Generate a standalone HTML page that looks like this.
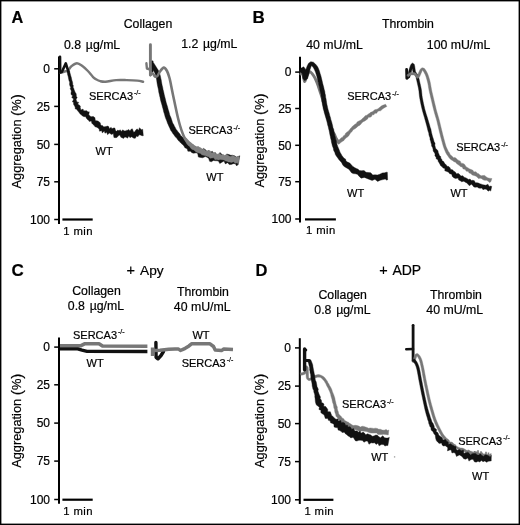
<!DOCTYPE html>
<html><head><meta charset="utf-8"><style>
html,body{margin:0;padding:0;background:#fff;}
body{width:520px;height:525px;overflow:hidden;}
svg{display:block;filter:grayscale(1) blur(0.3px);}
text{font-family:"Liberation Sans",sans-serif;fill:#000;stroke:#000;stroke-width:0.2px;}
</style></head><body>
<svg width="520" height="525" viewBox="0 0 520 525">
<rect x="0.7" y="0.7" width="518.6" height="523.6" fill="#fff" stroke="#000" stroke-width="1.4"/>
<text x="11.6" y="22.5" font-size="16.3" text-anchor="start" font-weight="bold">A</text>
<text x="148" y="28.2" font-size="12.3" text-anchor="middle" font-weight="normal">Collagen</text>
<text x="92.1" y="48.5" font-size="12.3" text-anchor="middle" font-weight="normal">0.8 <tspan dx="1.3">µ</tspan>g/mL</text>
<text x="209.3" y="48.1" font-size="12.3" text-anchor="middle" font-weight="normal">1.2 <tspan dx="1.3">µ</tspan>g/mL</text>
<line x1="59" y1="56.5" x2="59" y2="224" stroke="#000" stroke-width="2.0" stroke-linecap="butt"/>
<line x1="54.2" y1="68.8" x2="59" y2="68.8" stroke="#000" stroke-width="1.5" stroke-linecap="butt"/>
<text x="50" y="73.1" font-size="12" text-anchor="end" font-weight="normal">0</text>
<line x1="54.2" y1="106.4" x2="59" y2="106.4" stroke="#000" stroke-width="1.5" stroke-linecap="butt"/>
<text x="50" y="110.7" font-size="12" text-anchor="end" font-weight="normal">25</text>
<line x1="54.2" y1="144.4" x2="59" y2="144.4" stroke="#000" stroke-width="1.5" stroke-linecap="butt"/>
<text x="50" y="148.7" font-size="12" text-anchor="end" font-weight="normal">50</text>
<line x1="54.2" y1="181.8" x2="59" y2="181.8" stroke="#000" stroke-width="1.5" stroke-linecap="butt"/>
<text x="50" y="186.1" font-size="12" text-anchor="end" font-weight="normal">75</text>
<line x1="54.2" y1="219.5" x2="59" y2="219.5" stroke="#000" stroke-width="1.5" stroke-linecap="butt"/>
<text x="50" y="223.8" font-size="12" text-anchor="end" font-weight="normal">100</text>
<line x1="62.4" y1="219.5" x2="92.7" y2="219.5" stroke="#000" stroke-width="2.2" stroke-linecap="butt"/>
<text x="78" y="234.9" font-size="11.3" text-anchor="middle" font-weight="normal" letter-spacing="0.4">1 min</text>
<text transform="translate(21,141.3) rotate(-90)" font-size="12.8" text-anchor="middle">Aggregation <tspan font-size="15.5" dy="1.2">(</tspan><tspan dy="-1.2">%</tspan><tspan font-size="15.5" dy="1.2">)</tspan></text>
<path d="M60.6,72.8 C61.25,72.58 63.27,71.87 64.5,71.5 C65.73,71.13 66.85,71.47 68,70.6 C69.15,69.73 69.9,67.53 71.4,66.3 C72.9,65.07 75.12,63.2 77,63.2 C78.88,63.2 80.88,65 82.7,66.3 C84.52,67.6 86.17,69.2 87.9,71 C89.63,72.8 91.75,75.72 93.1,77.1 C94.45,78.48 94.8,78.62 96,79.3 C97.2,79.98 98.7,80.8 100.3,81.2 C101.9,81.6 102.95,81.88 105.6,81.7 C108.25,81.52 112.68,80.37 116.2,80.1 C119.72,79.83 123.18,80.02 126.7,80.1 C130.22,80.18 134.57,80.33 137.3,80.6 C140.03,80.87 142.13,81.52 143.1,81.7" stroke="#777" stroke-width="2.4" fill="none" stroke-linejoin="round" stroke-linecap="round"/>
<path d="M60,56.8 L60.2,72.3" stroke="#111" stroke-width="2.6" fill="none" stroke-linejoin="round" stroke-linecap="round"/>
<path d="M60.2,72.3 L61.8,72 L65.8,63.4 L68.3,71.4" stroke="#111" stroke-width="2.6" fill="none" stroke-linejoin="round" stroke-linecap="round"/>
<path d="M67.02,71.7 L67.21,72.55 L67.44,73.65 L67.7,75.02 L68.16,76.54 L68.46,77.97 L68.74,79.55 L69.02,80.82 L69.68,82.1 L69.55,83.57 L69.61,85.04 L70.18,86.36 L70.71,87.65 L70.13,88.85 L71.02,90.09 L71.32,91.55 L70.94,93.28 L71.28,94.83 L72.64,95.72 L71.74,97.56 L73.25,98.48 L73.44,99.83 L72.35,101.8 L73.79,102.87 L73.4,104 L74.13,105.25 L75.14,107.12 L75.28,108.95 L76.69,109.2 L77.46,110.6 L78.94,112.34 L79.94,113.74 L81.19,114.7 L82.17,115.72 L83.46,116.53 L84.67,116.68 L85.81,116.76 L86.32,118.3 L87.15,118.98 L87.91,120.07 L88.96,120.48 L89.21,121.51 L91.38,120.9 L91.82,123.24 L92.54,123.97 L93.33,124.7 L94.37,125.71 L95.07,126.78 L96.77,127.22 L97.91,127.89 L99.13,128.93 L99.5,131.17 L101.71,130.69 L102.25,132.91 L104.37,130.95 L104.96,133.25 L106.72,132.26 L107.52,134.63 L109.32,133.09 L110.45,133.78 L111.67,134.52 L113.29,133.5 L113.9,137.44 L115.24,137.67 L116.93,137.46 L118.43,135.74 L119.86,134.88 L120.86,137.23 L122.15,137.73 L123.45,138.45 L124.84,137.09 L126.18,137.23 L127.5,138.19 L128.78,136.09 L130.09,137.81 L131.35,136.77 L132.67,137.5 L133.99,138.33 L135.33,138.21 L136.54,135.96 L137.96,136.66 L139.12,134.83 L140.24,134.94 L142.06,135.74 L143.31,135.71 L142.68,129.34 L141.44,129.7 L139.48,127.68 L138.64,130.21 L137.2,128.97 L135.98,129.71 L134.85,131.7 L133.65,132.15 L132.32,128.8 L131.13,129.23 L129.94,131.01 L128.7,129.39 L127.5,130.25 L126.31,130.39 L125.09,131.08 L123.94,130.86 L122.78,129.77 L121.32,131.54 L120.26,129.79 L118.92,130.78 L117.89,130.05 L116.39,131.36 L115.55,130.46 L114.83,127.95 L113.59,127.97 L111.95,128.85 L111.12,127.32 L109.43,128.72 L108.65,126.58 L107.53,126.12 L106.05,126.56 L104.78,126.78 L103.49,126.84 L102.47,125.5 L101.19,125.55 L100.5,124.21 L100.26,122.8 L99.23,121.91 L98.39,121.32 L97.12,120.85 L95.88,120.82 L95.28,120.15 L94.93,117.81 L94.19,117.03 L93.14,116.42 L90.99,116.75 L89.85,115.73 L88.77,115.06 L89.29,111.84 L87.78,111.99 L87.02,110.83 L85.12,110.81 L83.56,110.76 L83.04,109.04 L80.88,110.09 L80.42,108.01 L80.09,106.99 L80.52,106.57 L79.82,105.41 L77.64,104.11 L78.81,102.41 L76.99,102.01 L76.51,100.76 L76.1,99.18 L77.18,97.5 L76.29,96.37 L76.32,94.71 L76.02,93.5 L75.11,92.13 L74.53,90.71 L73.99,89.37 L73.62,88.07 L73.06,87.16 L73.42,85.7 L72.69,84.42 L72.68,82.93 L72.35,81.54 L71.89,80.18 L71.59,78.89 L71.28,77.3 L70.81,75.91 L70.4,74.36 L70.03,73.02 L69.74,71.94 L69.57,71.08Z" fill="#111" stroke="#111" stroke-width="0.4" stroke-linejoin="round"/>
<text x="89" y="99.6" font-size="11" text-anchor="start" font-weight="normal">SERCA3<tspan font-size="7" dx="0.9" dy="-4.5">-/-</tspan></text>
<text x="95.5" y="154.6" font-size="11" text-anchor="start" font-weight="normal">WT</text>
<path d="M152,61.9 L152.2,70.5" stroke="#111" stroke-width="3.0" fill="none" stroke-linejoin="round" stroke-linecap="round"/>
<path d="M150.63,64.91 L151.55,66.67 L152.76,69.01 L153.58,70.46 L154.3,71.94 L154.92,73.31 L155.6,75.26 L156.11,77.54 L156.47,79.04 L156.75,80.82 L157,82.68 L157.3,84.43 L157.71,86.49 L158.17,88.41 L158.55,90.46 L158.77,92.2 L159.24,93.99 L159.58,95.83 L160.02,97.55 L160.44,99.65 L160.91,101.61 L161.56,103.63 L162.03,105.28 L162.43,107.02 L162.98,108.8 L163.43,110.68 L163.79,112.31 L164.42,113.95 L164.84,115.67 L165.29,117.33 L165.85,118.83 L166.81,120.99 L167.44,123.04 L168.33,124.93 L169.11,126.79 L169.97,128.54 L170.66,130.36 L171.83,131.85 L172.8,133.43 L174.07,134.9 L174.79,136.37 L176.11,137.5 L177.17,138.84 L178.06,140.27 L179.52,141.62 L180.76,143 L182.22,144.24 L183.75,145.65 L184.86,147.72 L187.12,148.78 L187.91,151.29 L190.41,151.33 L191.92,152.79 L193.72,153.26 L196.06,152.86 L197.68,153.54 L198.37,157.04 L200.48,157.41 L202.66,157.77 L205.37,156.61 L206.99,157.27 L208.56,158.31 L209.61,161.36 L211.36,161.75 L213.45,160.39 L215.05,160.74 L216.71,160.82 L218.4,161.07 L219.79,163.61 L221.95,162.2 L224.04,160.95 L225.3,163.9 L227.58,162.64 L229.19,164.57 L231.24,164.51 L233.23,163.67 L235.25,163.71 L236.69,165.96 L238.26,164.33 L239.79,155.71 L238.37,156.5 L236.43,157.01 L234.6,155.83 L232.83,155.32 L230.78,155.25 L228.94,154.6 L226.95,153.98 L224.86,155.99 L223.09,155.46 L221.48,154.08 L220.04,152.44 L217.85,155.29 L216.45,154.44 L215.33,152.5 L213.55,153.15 L212.32,151.3 L210.26,152.3 L209.02,150.44 L206.99,151.43 L205.34,149.57 L203.58,148.39 L200.74,150.58 L199.58,148.83 L198.66,146.9 L196.23,147.85 L195.27,146.05 L192.82,146.86 L191.61,145.47 L189.76,145.37 L189.04,143.13 L187.06,142.32 L185.72,140.82 L184.4,139.43 L183.33,137.94 L182.06,136.62 L180.87,135.69 L180.1,134.3 L179.09,133.09 L178.15,131.93 L177.11,130.48 L176.02,129.18 L175.34,127.64 L174.45,126.18 L173.72,124.61 L172.69,123.07 L172.13,121.23 L171.5,119.3 L170.78,117.16 L170.07,115.77 L169.57,114.18 L169.16,112.49 L168.66,110.85 L168.16,109.32 L167.73,107.47 L167.22,105.72 L166.64,104.04 L166.2,102.38 L165.66,100.35 L165.24,98.41 L164.71,96.41 L164.27,94.76 L163.92,92.99 L163.52,91.21 L163.05,89.54 L162.72,87.49 L162.21,85.6 L161.81,83.58 L161.49,81.86 L161.24,79.98 L160.81,78.15 L160.49,76.46 L159.83,73.94 L159.02,71.71 L158.18,70.04 L157.17,68.45 L156.25,66.99 L154.84,64.76 L153.78,63.09Z" fill="#111" stroke="#111" stroke-width="0.4" stroke-linejoin="round"/>
<path d="M150.4,44.8 L150.4,75" stroke="#777" stroke-width="2.9" fill="none" stroke-linejoin="round" stroke-linecap="round"/>
<path d="M146.4,63.3 L146.9,68.5 L150.3,69.5" stroke="#777" stroke-width="2.4" fill="none" stroke-linejoin="round" stroke-linecap="round"/>
<path d="M150.4,75 C150.75,74.7 151.73,72.95 152.5,73.2 C153.27,73.45 154.17,76.07 155,76.5 C155.83,76.93 156.67,76.63 157.5,75.8 C158.33,74.97 158.95,72.87 160,71.5 C161.05,70.13 162.63,67.68 163.8,67.6 C164.97,67.52 166.05,69.27 167,71 C167.95,72.73 168.8,75.5 169.5,78 C170.2,80.5 170.65,83.33 171.2,86 C171.75,88.67 172.25,91.33 172.8,94 C173.35,96.67 173.93,99.33 174.5,102 C175.07,104.67 175.62,107.33 176.2,110 C176.78,112.67 177.37,115.42 178,118 C178.63,120.58 179.28,123.08 180,125.5 C180.72,127.92 181.47,130.33 182.3,132.5 C183.13,134.67 183.8,136.67 185,138.5 C186.2,140.33 187.83,142 189.5,143.5 C191.17,145 194.08,146.83 195,147.5" stroke="#777" stroke-width="2.6" fill="none" stroke-linejoin="round" stroke-linecap="round"/>
<path d="M183.97,139.29 L184.71,140.36 L185.8,141.89 L186.77,143.86 L188.13,145.38 L189.69,146.48 L190.72,148.24 L192.16,149.44 L193.93,149.93 L195.46,151.38 L197.07,152.42 L198.97,153.06 L200.58,153.38 L201.76,154.87 L203.46,155.2 L205.15,155.6 L206.82,156.21 L208.6,156.65 L210.03,158.25 L211.96,157.97 L213.74,157.84 L214.97,159.69 L216.71,159.56 L218.4,159.9 L220.31,159.6 L222.19,159.7 L224.02,159.88 L225.54,161.03 L227.06,161.2 L228.38,161.91 L229.85,162.12 L231.41,162.49 L233.46,161.77 L235.34,163.16 L237.3,162.8 L238.37,164.45 L239.37,157.88 L238.35,155.98 L236.25,157.37 L234.37,156.29 L232.71,155.25 L230.95,156.45 L229.53,156.3 L228.2,155.45 L226.79,154.21 L224.78,155.42 L223.1,154.34 L221.13,154.98 L219.71,153.16 L217.88,154.15 L216.37,153.83 L215,152.96 L213.49,152.45 L211.67,152.68 L210.39,150.91 L208.71,150.52 L206.82,150.88 L205.22,150.53 L204.06,149.12 L202.36,149.2 L201.25,148.06 L199.61,147.36 L198.16,146.49 L195.97,146.62 L194.72,145.71 L193.56,144.52 L192.12,143.67 L190.9,142.59 L189.36,141.56 L188.11,140 L186.92,138.63 L186.03,137.71Z" fill="#808080" stroke="#808080" stroke-width="0.4" stroke-linejoin="round"/>
<text x="188.5" y="134.1" font-size="11" text-anchor="start" font-weight="normal">SERCA3<tspan font-size="7" dx="0.9" dy="-4.5">-/-</tspan></text>
<text x="206.3" y="180.7" font-size="11" text-anchor="start" font-weight="normal">WT</text>
<text x="252.6" y="22.8" font-size="17" text-anchor="start" font-weight="bold">B</text>
<text x="407.9" y="27.9" font-size="12.3" text-anchor="middle" font-weight="normal">Thrombin</text>
<text x="334.6" y="49.4" font-size="12.3" text-anchor="middle" font-weight="normal">40 mU/mL</text>
<text x="458.6" y="49.4" font-size="12.3" text-anchor="middle" font-weight="normal">100 mU/mL</text>
<line x1="300" y1="56.7" x2="300" y2="222.6" stroke="#000" stroke-width="2.0" stroke-linecap="butt"/>
<line x1="295.2" y1="72.1" x2="300" y2="72.1" stroke="#000" stroke-width="1.5" stroke-linecap="butt"/>
<text x="291.5" y="76.4" font-size="12" text-anchor="end" font-weight="normal">0</text>
<line x1="295.2" y1="108.5" x2="300" y2="108.5" stroke="#000" stroke-width="1.5" stroke-linecap="butt"/>
<text x="291.5" y="112.8" font-size="12" text-anchor="end" font-weight="normal">25</text>
<line x1="295.2" y1="145.3" x2="300" y2="145.3" stroke="#000" stroke-width="1.5" stroke-linecap="butt"/>
<text x="291.5" y="149.6" font-size="12" text-anchor="end" font-weight="normal">50</text>
<line x1="295.2" y1="181.7" x2="300" y2="181.7" stroke="#000" stroke-width="1.5" stroke-linecap="butt"/>
<text x="291.5" y="186" font-size="12" text-anchor="end" font-weight="normal">75</text>
<line x1="295.2" y1="219" x2="300" y2="219" stroke="#000" stroke-width="1.5" stroke-linecap="butt"/>
<text x="291.5" y="223.3" font-size="12" text-anchor="end" font-weight="normal">100</text>
<line x1="305" y1="219.4" x2="335.9" y2="219.4" stroke="#000" stroke-width="2.2" stroke-linecap="butt"/>
<text x="320.9" y="234.2" font-size="11.3" text-anchor="middle" font-weight="normal" letter-spacing="0.4">1 min</text>
<text transform="translate(263.5,140.4) rotate(-90)" font-size="12.8" text-anchor="middle">Aggregation <tspan font-size="15.5" dy="1.2">(</tspan><tspan dy="-1.2">%</tspan><tspan font-size="15.5" dy="1.2">)</tspan></text>
<path d="M300.8,74 C301.08,73.75 301.88,71.25 302.5,72.5 C303.12,73.75 303.75,81 304.5,81.5 C305.25,82 306.17,77.12 307,75.5 C307.83,73.88 308.67,72.13 309.5,71.8 C310.33,71.47 311.13,72.55 312,73.5 C312.87,74.45 313.82,75.82 314.7,77.5 C315.58,79.18 316.43,81.3 317.3,83.6 C318.17,85.9 319.03,88.73 319.9,91.3 C320.77,93.87 321.65,96.22 322.5,99 C323.35,101.78 324.08,104.75 325,108 C325.92,111.25 327,115.17 328,118.5 C329,121.83 329.97,125.42 331,128 C332.03,130.58 333.28,132.17 334.2,134 C335.12,135.83 335.77,137.67 336.5,139 C337.23,140.33 338.25,141.5 338.6,142" stroke="#777" stroke-width="2.8" fill="none" stroke-linejoin="round" stroke-linecap="round"/>
<path d="M336.1,142.22 L338.69,144.34 L340.25,143.03 L342.13,141.52 L343.67,140.68 L344.78,139.35 L345.91,138.04 L347.38,137.03 L348.63,135.93 L349.55,134.53 L350.37,133.03 L351.64,132.02 L352.51,130.63 L353.54,129.58 L354.87,128.87 L356.07,127.93 L357.21,126.93 L358.35,125.91 L359.79,125.3 L360.84,124.22 L361.89,122.8 L363.21,121.72 L364.83,120.99 L366.23,119.99 L367.6,119.04 L368.37,117.24 L370.15,117.19 L371.45,116.48 L372.27,114.87 L373.97,114.68 L374.9,113.24 L376.68,113.23 L377.51,111.64 L378.81,110.88 L380.51,110.82 L381.71,109.84 L382.83,108.72 L384.12,107.91 L385.43,107.14 L386.81,106.5 L385.55,104.24 L384.14,104.83 L382.68,105.34 L381.3,105.99 L380.13,107.02 L378.95,108.02 L377.67,108.88 L376.22,109.44 L374.6,109.79 L373.51,110.99 L372.22,111.86 L370.71,112.35 L369.52,113.37 L368.12,114.14 L366.92,115.19 L365.16,115.78 L364.04,117.22 L362.68,118.27 L361.52,119.57 L360.06,120.53 L358.43,121.27 L357.1,122.07 L356.33,123.54 L354.96,124.28 L353.81,125.28 L352.55,126.14 L351.54,127.4 L350.46,128.55 L349.42,129.92 L348.31,131.21 L346.87,132.15 L345.58,133.22 L344.98,134.91 L343.52,135.72 L342.72,137.15 L341.25,137.83 L340.13,138.91 L339.54,139.52 L338.53,140.55 L336.92,138.72Z" fill="#777" stroke="#777" stroke-width="0.4" stroke-linejoin="round"/>
<path d="M302.48,73.73 L303.26,71.69 L303.34,70.82 L302.04,71.05 L302.18,73.06 L302.48,75.89 L302.87,78.42 L304.74,80.77 L307.49,78.86 L308.19,76.57 L308.87,73.94 L309.49,71.38 L310.08,69.46 L310.87,67.2 L311.54,65.71 L311.59,65.37 L311.7,65.63 L312.69,66.69 L313.71,68.27 L314.34,69.51 L315.02,70.94 L315.7,72.65 L316.24,74.6 L316.77,76.27 L317.22,78.11 L317.6,80.07 L318.16,82.05 L318.6,84.08 L319.09,86.08 L319.6,88.07 L319.87,90.15 L320.38,92.23 L320.98,94.39 L321.07,96.06 L321.37,97.78 L321.68,99.57 L321.81,101.43 L322.26,103.27 L322.52,105.14 L322.93,106.95 L323.28,109.05 L323.92,111.06 L324.37,113.09 L325,115.01 L325.54,116.89 L326.1,118.69 L326.67,120.79 L327.22,122.83 L327.58,124.85 L328.23,126.7 L328.56,128.52 L329.15,130.63 L329.52,132.65 L329.85,134.59 L330.32,136.48 L330.63,138.36 L331.17,140.12 L331.41,141.91 L331.84,143.65 L332.4,145.96 L333.3,148.15 L333.69,150.45 L334.8,152.4 L335.37,154.5 L336.48,156.3 L337.77,157.96 L338.94,159.66 L340.34,161.17 L341.68,162.71 L342.61,164.69 L343.85,166.3 L346.17,167.63 L348.45,169.04 L349.96,170.44 L351.2,172.44 L353,173.59 L355.32,173.78 L357.36,174.34 L358.83,175.94 L361.04,178.16 L364.33,177.38 L366.9,178.39 L369.47,179.47 L372.13,180.44 L374.94,179.36 L377.65,181.38 L380.25,180.21 L382.9,179.62 L385.2,179.05 L386.81,180.13 L387.63,179.75 L387.33,172.22 L386.26,172.21 L384.7,172.86 L382.31,172.91 L379.77,174.26 L377.42,175.01 L375.08,174.85 L372.75,174.96 L370.79,172.83 L368.5,172.5 L366.03,172.37 L364.06,170.6 L361.25,170.7 L359.4,170.52 L358.11,169.15 L356.31,168.48 L354.51,167.58 L352.87,166.39 L351.5,165.03 L349.8,163.12 L347.49,162.07 L346.03,161.09 L345.54,159.11 L343.99,158.16 L342.89,156.82 L341.85,155.38 L340.96,153.78 L340.02,152.18 L339.41,150.38 L338.64,148.57 L337.83,146.64 L337.1,144.56 L336.54,142.36 L336.27,140.66 L335.61,139.04 L335.37,137.27 L334.82,135.49 L334.46,133.61 L333.96,131.7 L333.76,129.61 L332.95,127.5 L332.6,125.61 L332.12,123.67 L331.61,121.67 L330.91,119.64 L330.46,117.47 L329.82,115.67 L329.37,113.74 L328.75,111.84 L328.19,109.9 L327.69,107.96 L327.29,106 L326.88,104.32 L326.62,102.56 L326.33,100.76 L326.08,98.93 L325.63,97.13 L325.53,95.3 L325.04,93.61 L324.76,91.3 L324.14,89.18 L323.69,87.1 L323.12,85.1 L322.6,83.12 L322.17,81.1 L321.67,79.09 L321.2,77.1 L320.71,75.18 L320.11,73.42 L319.53,71.33 L318.84,69.39 L318.02,67.58 L317.08,65.93 L315.41,63.98 L313.43,62.2 L310.81,61.64 L308.66,63.14 L307.39,65.48 L306.34,68.14 L305.68,70.26 L305.01,72.9 L304.38,75.44 L303.93,77.14 L305.66,76.84 L306.72,77.3 L306.46,75.28 L306.18,72.49 L305.73,69.43 L303.66,66.78 L300.82,68.35 L299.11,71.27Z" fill="#111" stroke="#111" stroke-width="0.4" stroke-linejoin="round"/>
<text x="347.2" y="100.2" font-size="11" text-anchor="start" font-weight="normal">SERCA3<tspan font-size="7" dx="0.9" dy="-4.5">-/-</tspan></text>
<text x="347" y="196.6" font-size="11" text-anchor="start" font-weight="normal">WT</text>
<path d="M406.6,69.5 L406.8,78.3 L408.5,77" stroke="#111" stroke-width="2.8" fill="none" stroke-linejoin="round" stroke-linecap="round"/>
<path d="M409.84,77.38 L410.16,76.26 L410.6,74.62 L411.13,72.67 L411.7,70.59 L412.28,68.59 L412.83,66.87 L413.24,65.77 L412.58,65.74 L411.8,65.32 L412.09,66.61 L412.4,68.72 L412.75,71.05 L413.19,72.82 L414.43,74.58 L415.64,76.29 L416.02,77.52 L416.39,79.01 L416.79,80.77 L417.17,82.51 L417.52,84.09 L417.9,85.74 L418.23,87.2 L418.52,88.64 L418.79,90.2 L418.97,91.53 L419.1,92.9 L419.23,94.37 L419.42,95.99 L419.69,97.81 L419.95,99.27 L420.25,100.85 L420.58,102.51 L420.93,104.22 L421.31,105.95 L421.7,107.67 L422.1,109.33 L422.52,110.95 L422.98,112.58 L423.45,114.2 L423.92,115.8 L424.38,117.37 L424.83,118.91 L425.25,120.4 L425.71,122.07 L426.16,123.68 L426.59,125.25 L426.99,126.8 L427.36,128.35 L427.77,129.91 L428.18,131.48 L428.79,132.99 L428.92,134.63 L429.34,136.21 L429.96,137.75 L429.99,139.45 L430.66,141.02 L430.96,142.71 L431.5,144.36 L431.64,146.11 L432.59,147.58 L433.05,149.13 L433.19,151.04 L434.28,152.49 L435.09,153.97 L434.9,155.88 L436.06,157.12 L436.19,158.86 L437.9,159.76 L438.22,161.41 L439.12,162.75 L439.94,164.18 L440.66,165.72 L442.13,166.67 L443.09,168.01 L444.87,168.53 L444.84,170.87 L446.86,171.46 L448.58,172.26 L449.7,173.8 L451.71,174.13 L452.3,176.51 L453.74,177.66 L455.44,178.53 L458.07,178.1 L458.73,180.08 L460.28,180.68 L461.66,181.73 L463.86,181.2 L465.3,182.18 L466.76,183.02 L468.06,184.18 L469.27,185.63 L471.5,184.28 L472.75,185.46 L473.85,186.97 L475.31,187.25 L477.19,186.96 L478.56,187.94 L480.09,188.34 L481.82,188 L483.01,189.67 L484.95,189.03 L486.71,189.47 L488.11,191.17 L489.81,190.34 L490.72,191.11 L491.72,186.42 L490.72,186.09 L489.15,186.45 L487.91,184.19 L485.88,185.22 L484.27,184.95 L482.8,184.68 L481.39,184.17 L479.92,183.79 L478.48,183.1 L476.87,182.67 L475.31,182.72 L474.39,180.76 L472.94,180.29 L471.23,180.46 L470.1,179.11 L468.31,179.43 L467.02,178.44 L465.54,177.74 L463.95,177.2 L462.87,175.72 L460.9,176.07 L459.91,174.85 L458.49,173.39 L456.23,173.67 L455.32,171.94 L453.76,171.2 L452.59,169.87 L450.75,169.49 L449.98,167.76 L448.77,166.54 L447.06,166.28 L446.28,164.98 L445.27,163.89 L444.21,162.87 L443.64,161.5 L442.1,160.83 L441.79,159.32 L440.82,158.18 L440.68,156.55 L439.38,155.46 L438.92,153.92 L438.24,152.5 L437.99,150.87 L436.85,149.58 L435.54,148.22 L435.25,146.7 L434.82,145.15 L435.08,143.34 L434.17,141.83 L433.69,140.2 L433.24,138.59 L432.69,137.05 L432.27,135.48 L431.88,133.9 L431.43,132.33 L431.16,130.71 L430.85,129.09 L430.25,127.56 L429.83,126 L429.41,124.44 L428.94,122.88 L428.45,121.27 L427.95,119.6 L427.5,118.11 L427.02,116.58 L426.52,115.02 L426.04,113.44 L425.57,111.85 L425.12,110.26 L424.7,108.67 L424.3,107.05 L423.92,105.37 L423.54,103.66 L423.19,101.97 L422.86,100.34 L422.57,98.8 L422.31,97.39 L422.04,95.64 L421.87,94.07 L421.73,92.61 L421.6,91.2 L421.41,89.8 L421.12,88.16 L420.81,86.66 L420.47,85.17 L420.08,83.51 L419.73,81.94 L419.35,80.18 L418.93,78.37 L418.46,76.58 L417.96,75.11 L416.76,73.4 L415.61,71.78 L415.29,70.31 L415.01,68.24 L414.68,65.99 L414.21,64.16 L412.42,63.06 L410.91,64.39 L410.28,65.94 L409.68,67.77 L409.07,69.82 L408.47,71.93 L407.93,73.89 L407.48,75.52 L407.16,76.62Z" fill="#111" stroke="#111" stroke-width="0.4" stroke-linejoin="round"/>
<path d="M408.22,77.02 L409.31,75.99 L411.01,74.99 L412.29,74.89 L413.44,74.95 L414.73,75.27 L416.01,77.33 L417.59,78.45 L419.3,77.23 L420.25,75.37 L421.01,73.54 L421.75,71.8 L422.29,70.66 L422.14,70.27 L422.7,70.36 L423.81,71.89 L424.88,73.92 L425.38,75 L425.86,76.3 L426.33,77.75 L426.78,79.26 L427.19,80.77 L427.56,82.19 L427.92,83.79 L428.2,85.34 L428.45,86.9 L428.72,88.53 L429.04,90.25 L429.37,91.75 L429.71,93.27 L430.07,94.83 L430.45,96.43 L430.84,98.08 L431.25,99.8 L431.62,101.36 L432.01,103.01 L432.42,104.72 L432.83,106.45 L433.25,108.15 L433.66,109.79 L434.06,111.33 L434.51,112.99 L434.96,114.53 L435.4,115.99 L435.83,117.42 L436.24,118.85 L436.65,120.33 L437.05,121.87 L437.43,123.44 L437.81,125.02 L438.18,126.61 L438.56,128.21 L438.94,129.8 L439.33,131.39 L439.72,132.97 L440.11,134.56 L440.5,136.15 L440.92,137.74 L441.35,139.33 L441.79,140.96 L442.23,142.61 L442.68,144.28 L443.17,145.94 L443.71,147.56 L444.28,149.12 L445.07,150.93 L445.83,152.77 L446.79,154.42 L447.81,155.86 L448.69,157.14 L450.13,158.88 L451.54,159.98 L452.84,160.72 L454,161.63 L455.72,162.35 L456.59,163.62 L457.99,164.5 L459.37,165.58 L460.65,166.65 L462.23,166.99 L463.12,168.93 L465.01,169.28 L466.33,171.17 L468.08,171.36 L469.13,172.93 L470.85,173.62 L472.2,175.02 L474.04,175.46 L475.6,176.07 L477.16,177 L478.37,178.46 L480.28,178.16 L481.8,178.64 L483.09,179.81 L484.75,180.35 L486.75,180.25 L488.28,181.28 L489.46,182.56 L490.84,181.78 L491.88,178.54 L490.79,178.41 L489.26,178.26 L487.58,177.76 L486.03,176.7 L484.68,175.45 L482.98,175.6 L481.26,175.77 L479.85,175.09 L478.7,173.74 L477.07,173.2 L476.04,171.77 L474,171.88 L472.86,170.25 L471.17,169.62 L469.69,168.95 L468.54,168.21 L466.72,167.13 L465.5,166.02 L464.43,164.23 L463.02,163.44 L461.07,163.13 L460.28,161.13 L458.73,160.39 L457.47,159.64 L456.15,158.3 L454.93,157.58 L453.4,157.7 L452.42,156.56 L450.88,155.29 L450.01,154.35 L449.41,152.85 L448.35,151.39 L447.55,149.71 L446.72,148.08 L446.15,146.66 L445.65,145.15 L445.18,143.56 L444.73,141.92 L444.29,140.28 L443.85,138.67 L443.42,137.08 L443.01,135.5 L442.62,133.93 L442.23,132.35 L441.85,130.77 L441.46,129.2 L441.07,127.61 L440.69,126.02 L440.32,124.42 L439.94,122.82 L439.55,121.24 L439.15,119.67 L438.73,118.15 L438.3,116.69 L437.87,115.26 L437.43,113.81 L436.99,112.29 L436.54,110.67 L436.15,109.15 L435.75,107.53 L435.33,105.84 L434.92,104.12 L434.51,102.42 L434.12,100.76 L433.75,99.2 L433.34,97.49 L432.94,95.84 L432.57,94.25 L432.21,92.7 L431.87,91.21 L431.56,89.75 L431.24,88.07 L430.97,86.46 L430.72,84.88 L430.42,83.27 L430.04,81.61 L429.66,80.12 L429.23,78.56 L428.77,76.98 L428.27,75.44 L427.71,73.98 L427.12,72.68 L425.79,70.28 L424.24,68.34 L422.06,67.73 L420.48,68.88 L419.5,70.64 L418.7,72.5 L417.96,74.29 L417.52,75.44 L418.01,75.95 L417.26,75.14 L416.07,73.13 L414.39,72.61 L412.04,72.39 L410.19,72.61 L408.19,73.76 L406.78,74.98Z" fill="#777" stroke="#777" stroke-width="0.4" stroke-linejoin="round"/>
<text x="456.2" y="151.4" font-size="11" text-anchor="start" font-weight="normal">SERCA3<tspan font-size="7" dx="0.9" dy="-4.5">-/-</tspan></text>
<text x="450.4" y="196.9" font-size="11" text-anchor="start" font-weight="normal">WT</text>
<text x="11.4" y="276.2" font-size="17" text-anchor="start" font-weight="bold">C</text>
<text x="126.6" y="274.9" font-size="14.5" text-anchor="start" font-weight="normal">+</text>
<text x="140" y="274.9" font-size="13.7" text-anchor="start" font-weight="normal">Apy</text>
<text x="96.5" y="294.8" font-size="12.3" text-anchor="middle" font-weight="normal">Collagen</text>
<text x="96" y="309.9" font-size="12.3" text-anchor="middle" font-weight="normal">0.8 <tspan dx="1.3">µ</tspan>g/mL</text>
<text x="202.9" y="295.9" font-size="12.3" text-anchor="middle" font-weight="normal">Thrombin</text>
<text x="202.2" y="311" font-size="12.3" text-anchor="middle" font-weight="normal">40 mU/mL</text>
<line x1="59" y1="337.5" x2="59" y2="503.8" stroke="#000" stroke-width="2.0" stroke-linecap="butt"/>
<line x1="54.2" y1="347.1" x2="59" y2="347.1" stroke="#000" stroke-width="1.5" stroke-linecap="butt"/>
<text x="50" y="351.4" font-size="12" text-anchor="end" font-weight="normal">0</text>
<line x1="54.2" y1="384.8" x2="59" y2="384.8" stroke="#000" stroke-width="1.5" stroke-linecap="butt"/>
<text x="50" y="389.1" font-size="12" text-anchor="end" font-weight="normal">25</text>
<line x1="54.2" y1="423.1" x2="59" y2="423.1" stroke="#000" stroke-width="1.5" stroke-linecap="butt"/>
<text x="50" y="427.4" font-size="12" text-anchor="end" font-weight="normal">50</text>
<line x1="54.2" y1="461.1" x2="59" y2="461.1" stroke="#000" stroke-width="1.5" stroke-linecap="butt"/>
<text x="50" y="465.4" font-size="12" text-anchor="end" font-weight="normal">75</text>
<line x1="54.2" y1="499.5" x2="59" y2="499.5" stroke="#000" stroke-width="1.5" stroke-linecap="butt"/>
<text x="50" y="503.8" font-size="12" text-anchor="end" font-weight="normal">100</text>
<line x1="62.4" y1="499.7" x2="92.7" y2="499.7" stroke="#000" stroke-width="2.2" stroke-linecap="butt"/>
<text x="78" y="514.9" font-size="11.3" text-anchor="middle" font-weight="normal" letter-spacing="0.4">1 min</text>
<text transform="translate(21,420.7) rotate(-90)" font-size="12.8" text-anchor="middle">Aggregation <tspan font-size="15.5" dy="1.2">(</tspan><tspan dy="-1.2">%</tspan><tspan font-size="15.5" dy="1.2">)</tspan></text>
<path d="M60,345.7 L81,345.7 L85,343.7 L99,343.7 L102.5,346 L147.4,346.2" stroke="#777" stroke-width="3.6" fill="none" stroke-linejoin="round" stroke-linecap="butt"/>
<path d="M60,348.9 L77.7,348.9 L82,350.2 L87,351.4 L147.4,351.5" stroke="#111" stroke-width="3.3" fill="none" stroke-linejoin="round" stroke-linecap="butt"/>
<text x="73" y="338.5" font-size="11" text-anchor="start" font-weight="normal">SERCA3<tspan font-size="7" dx="0.9" dy="-4.5">-/-</tspan></text>
<text x="86.5" y="366.5" font-size="11" text-anchor="start" font-weight="normal">WT</text>
<path d="M155.9,342.5 L156.1,357.3 L158,358.8 L161,355.5 L163.5,351.5" stroke="#111" stroke-width="3.4" fill="none" stroke-linejoin="round" stroke-linecap="round"/>
<path d="M152.6,347.5 L152.6,356" stroke="#777" stroke-width="3.6" fill="none" stroke-linejoin="round" stroke-linecap="butt"/>
<path d="M152.5,350.5 L160,350.2 L168.8,349.2 L175,349 L178.5,349 L180.4,350.5 L183,349.3 L185.2,348.3 L189,345.9 L191.5,343.8 L210,343.8 L213.5,346.5 L215.2,350 L221.5,350.6 L223.8,349 L233,349.4" stroke="#777" stroke-width="3.5" fill="none" stroke-linejoin="round" stroke-linecap="butt"/>
<text x="192.4" y="338.5" font-size="11" text-anchor="start" font-weight="normal">WT</text>
<text x="181.7" y="366.8" font-size="11" text-anchor="start" font-weight="normal">SERCA3<tspan font-size="7" dx="0.9" dy="-4.5">-/-</tspan></text>
<text x="255.4" y="275.8" font-size="16.5" text-anchor="start" font-weight="bold">D</text>
<text x="379.2" y="275.3" font-size="14.5" text-anchor="start" font-weight="normal">+</text>
<text x="392.4" y="275.3" font-size="14" text-anchor="start" font-weight="normal">ADP</text>
<text x="342.7" y="299.2" font-size="12.3" text-anchor="middle" font-weight="normal">Collagen</text>
<text x="342.5" y="314.2" font-size="12.3" text-anchor="middle" font-weight="normal">0.8 <tspan dx="1.3">µ</tspan>g/mL</text>
<text x="456" y="299.2" font-size="12.3" text-anchor="middle" font-weight="normal">Thrombin</text>
<text x="454.7" y="314.2" font-size="12.3" text-anchor="middle" font-weight="normal">40 mU/mL</text>
<line x1="299.8" y1="338.2" x2="299.8" y2="504" stroke="#000" stroke-width="2.0" stroke-linecap="butt"/>
<line x1="295" y1="347.9" x2="299.8" y2="347.9" stroke="#000" stroke-width="1.5" stroke-linecap="butt"/>
<text x="291" y="352.2" font-size="12" text-anchor="end" font-weight="normal">0</text>
<line x1="295" y1="386.1" x2="299.8" y2="386.1" stroke="#000" stroke-width="1.5" stroke-linecap="butt"/>
<text x="291" y="390.4" font-size="12" text-anchor="end" font-weight="normal">25</text>
<line x1="295" y1="423.6" x2="299.8" y2="423.6" stroke="#000" stroke-width="1.5" stroke-linecap="butt"/>
<text x="291" y="427.9" font-size="12" text-anchor="end" font-weight="normal">50</text>
<line x1="295" y1="461.6" x2="299.8" y2="461.6" stroke="#000" stroke-width="1.5" stroke-linecap="butt"/>
<text x="291" y="465.9" font-size="12" text-anchor="end" font-weight="normal">75</text>
<line x1="295" y1="499.8" x2="299.8" y2="499.8" stroke="#000" stroke-width="1.5" stroke-linecap="butt"/>
<text x="291" y="504.1" font-size="12" text-anchor="end" font-weight="normal">100</text>
<line x1="303.5" y1="499.8" x2="333.4" y2="499.8" stroke="#000" stroke-width="2.2" stroke-linecap="butt"/>
<text x="319.2" y="514.9" font-size="11.3" text-anchor="middle" font-weight="normal" letter-spacing="0.4">1 min</text>
<text transform="translate(263.5,420.8) rotate(-90)" font-size="12.8" text-anchor="middle">Aggregation <tspan font-size="15.5" dy="1.2">(</tspan><tspan dy="-1.2">%</tspan><tspan font-size="15.5" dy="1.2">)</tspan></text>
<path d="M300.79,375.17 L302.98,374.96 L305.41,373.91 L306.38,372.03 L307.08,369.53 L307.56,367.72 L306.87,367.99 L305.85,367.85 L305.94,369.21 L305.99,371.15 L306,373.32 L306.08,375.47 L306.25,377.56 L306.88,379.34 L308.99,380.68 L311.4,380 L313.1,379.33 L314.57,378.47 L315.86,377.79 L317.34,377.15 L318.68,377.13 L320.18,377.35 L321.68,378.18 L322.52,379.13 L323.5,380.14 L324.4,381.31 L325.06,382.59 L325.9,383.8 L326.48,385.25 L327.22,386.66 L328.05,388.09 L328.78,389.73 L329.47,391.11 L330.08,392.69 L330.64,394.29 L330.9,395.86 L331.37,397.56 L331.9,399.11 L332.28,400.91 L332.59,402.52 L333.31,404.18 L333.64,406.02 L333.88,407.9 L334.54,409.35 L334.68,411 L335.02,412.7 L335.67,414.37 L336.01,416.22 L337.31,417.58 L338.16,419.28 L339.48,420.57 L340.74,421.84 L342.02,422.98 L343.52,423.76 L344.36,425.35 L345.91,426.14 L347.72,426.56 L349.24,427.7 L350.6,429.02 L352.3,429.75 L354.24,429.71 L356.14,429.68 L357.84,430.42 L359.5,431.17 L361.29,431.01 L363.04,430.95 L364.72,431.3 L366.4,431.49 L368.01,432.1 L369.6,432.77 L371.27,433.03 L373,433.11 L374.77,433 L376.52,432.95 L378,434.4 L379.63,434.51 L381.62,434.5 L383.68,434.29 L385.56,434.47 L387.14,434.71 L388.26,434.96 L388.81,430.01 L387.6,430.57 L386.13,429.49 L384.16,430.24 L382.18,430.1 L380.35,429.25 L378.76,429.3 L377.23,428.46 L375.56,428.16 L373.77,428.45 L372.06,428.14 L370.35,427.96 L368.58,428.29 L366.99,427.5 L365.39,426.92 L363.8,426.4 L362.15,426.25 L360.3,427.06 L358.74,426.1 L357.05,425.62 L355.33,425.3 L353.51,425.56 L352.06,424.89 L350.89,424 L349.54,423.26 L348.45,422.29 L347.08,421.77 L345.79,421.02 L344.45,420.19 L343.65,418.66 L342.09,417.93 L341.24,416.54 L340.22,415.48 L339.12,414.52 L338.52,413.26 L338.3,411.78 L337.63,410.33 L337.29,408.74 L337.32,407.1 L336.49,405.31 L335.97,403.5 L335.62,401.73 L335.17,400.13 L334.88,398.25 L334.38,396.64 L333.8,394.91 L333.19,393.4 L332.44,391.81 L331.98,390.11 L331.33,388.62 L330.53,386.91 L329.55,385.48 L328.9,383.96 L327.98,382.63 L327.33,381.18 L326.4,379.89 L325.39,378.55 L324.31,377.15 L322.95,376.17 L320.96,375.13 L318.9,374.61 L316.94,374.77 L314.97,375.49 L313.5,376.21 L312.04,377.05 L311,377.63 L309.48,378.24 L308.5,377.49 L308.61,376.8 L308.55,375.3 L308.48,373.23 L308.39,371.08 L308.4,369.08 L308.27,367.4 L306.93,365.61 L305.37,366.71 L304.82,368.69 L304.32,370.78 L303.79,372.1 L301.84,372.83 L300.21,372.83Z" fill="#777" stroke="#777" stroke-width="0.4" stroke-linejoin="round"/>
<path d="M304.6,369.7 L304.6,349" stroke="#111" stroke-width="3.4" fill="none" stroke-linejoin="round" stroke-linecap="round"/>
<path d="M304.7,349.5 L306,350" stroke="#111" stroke-width="2.5" fill="none" stroke-linejoin="round" stroke-linecap="round"/>
<path d="M304.7,360.5 L309.3,360.5" stroke="#111" stroke-width="3.0" fill="none" stroke-linejoin="round" stroke-linecap="round"/>
<path d="M307.78,361.09 L308.05,361.95 L308.58,363.4 L309.19,365.94 L309.48,366.96 L309.65,368.23 L309.56,369.74 L309.95,371.29 L310.12,372.96 L310.66,374.6 L310.78,376.3 L310.93,377.95 L311.1,379.51 L311.44,380.9 L311.84,382.7 L312.08,384.41 L312.19,386.06 L312.59,387.57 L312.93,389.07 L313.75,390.44 L313.83,392.02 L314.4,393.53 L314.83,395.1 L314.79,396.8 L315.08,398.42 L315.22,400.07 L315.38,401.71 L315.74,403.25 L316.44,405.07 L318.14,406.15 L319.34,407.32 L318.92,409.53 L320.97,410.14 L320.79,412.54 L322.25,413.8 L324.04,414.8 L324.72,416.68 L325.37,418.51 L327.94,418.46 L328.32,420.33 L330.11,420.87 L330.59,422.85 L332.52,423.41 L333.9,424.3 L334.04,426.98 L335.76,427.57 L337.71,427.77 L338.11,430.12 L339.77,430.52 L341.05,431.37 L342.08,432.58 L344.33,432.2 L345.32,433.69 L346.78,434.63 L348.15,435.88 L349.54,436.79 L350.89,437.88 L352.96,437.27 L354.18,438.69 L355.24,440.63 L356.87,441.04 L358.84,440.25 L360.75,440.23 L362.54,440.54 L363.96,442.27 L366.07,440.96 L367.76,441.37 L368.98,444.29 L371.06,442.77 L372.81,443.04 L374.63,442.79 L376.11,444.43 L377.95,443.26 L379.12,445.87 L381.28,444.6 L383.32,444.55 L384.97,446.08 L386.71,445.49 L387.86,445.59 L389.33,437.35 L388.06,437.94 L386.4,438.07 L384.5,437.84 L382.8,435.76 L380.45,437.78 L378.96,436.83 L377.5,435.25 L375.82,435.06 L373.97,435.9 L372.21,436.23 L370.75,434.93 L369.19,434.38 L367.63,433.81 L365.73,434.75 L364.46,433.07 L363.1,431.94 L360.98,433.33 L360.2,431.09 L358.29,432.14 L357.19,430.81 L355.5,431.04 L354.21,430.37 L353.55,428.58 L351.77,429.25 L350.91,427.86 L350.05,426.63 L348.04,427.03 L347.54,425.16 L345.52,425.25 L344.89,423.32 L343.42,422.47 L341.35,422.48 L340.73,420.47 L338.41,420.96 L338.01,418.99 L335.96,419.3 L334.67,418.34 L333.66,417.22 L332.67,416.14 L331.53,415.14 L330.96,413.49 L330.33,411.77 L327.78,411.63 L327.72,409.37 L326.74,407.95 L325.76,406.62 L323.68,406.24 L323.98,404.37 L323.28,403.28 L321.53,402.61 L321.56,400.87 L321.07,399.76 L320.17,398.62 L320.48,397 L319.72,395.59 L319.02,394.1 L318.55,392.54 L317.94,391.03 L318.32,389.34 L317.75,387.91 L317.01,386.54 L316.8,385.02 L316.54,383.45 L316.17,381.81 L315.35,380.14 L315.13,378.77 L314.78,377.28 L314.84,375.62 L314.32,373.99 L314.03,372.31 L313.71,370.67 L313.38,369.09 L313.12,367.61 L312.88,366.24 L312.77,365.02 L311.86,362.42 L311.24,360.92 L310.81,359.91Z" fill="#111" stroke="#111" stroke-width="0.4" stroke-linejoin="round"/>
<text x="342" y="408.4" font-size="11" text-anchor="start" font-weight="normal">SERCA3<tspan font-size="7" dx="0.9" dy="-4.5">-/-</tspan></text>
<text x="371.2" y="461.2" font-size="11" text-anchor="start" font-weight="normal">WT</text>
<path d="M406.3,349.2 L413,349" stroke="#111" stroke-width="2.6" fill="none" stroke-linejoin="round" stroke-linecap="round"/>
<path d="M413.1,325.3 L413.1,361" stroke="#111" stroke-width="2.8" fill="none" stroke-linejoin="round" stroke-linecap="round"/>
<path d="M414.64,362.39 L415.16,360.85 L415.9,358.71 L416.56,357.08 L417.05,355.85 L417.01,355.8 L417.27,356.32 L418.23,357.73 L419.19,359.72 L419.57,360.84 L419.94,362.13 L420.31,363.6 L420.67,365.18 L421.03,366.84 L421.39,368.55 L421.71,370.09 L422.02,371.72 L422.33,373.42 L422.64,375.16 L422.95,376.89 L423.27,378.6 L423.58,380.24 L423.89,381.82 L424.21,383.37 L424.53,384.89 L424.84,386.39 L425.16,387.87 L425.47,389.32 L425.78,390.76 L426.12,392.4 L426.46,393.99 L426.79,395.55 L427.13,397.11 L427.49,398.69 L427.88,400.3 L428.29,401.95 L428.72,403.62 L429.17,405.3 L429.63,406.99 L430.1,408.67 L430.58,410.35 L431.07,412.04 L431.56,413.77 L432.07,415.5 L432.6,417.2 L433.14,418.87 L433.7,420.45 L434.4,422.23 L435.12,423.91 L435.85,425.51 L436.6,427.06 L437.34,428.57 L438.07,430.07 L438.81,431.55 L439.61,432.96 L440.43,434.36 L441.12,435.81 L442.48,437.19 L443.4,438.83 L444.51,440.34 L446.06,441.47 L447.25,442.47 L448.44,443.5 L450.02,444.05 L450.69,445.81 L452.06,446.67 L453.85,446.84 L455.2,447.63 L456.57,448.48 L457.93,449.52 L459.33,450.9 L461.17,450.76 L462.56,452.12 L464.65,451.48 L466,453.44 L468.08,452.72 L469.72,453.44 L471.21,454.64 L473.11,453.91 L474.72,454.51 L476.37,454.87 L478.16,454.62 L479.71,455.97 L481.38,456.02 L483.23,455.89 L485.14,455.7 L486.84,456.48 L488.55,456.15 L489.81,457.09 L490.84,457.09 L491.34,453.7 L490.29,453.86 L488.7,455.15 L487.22,453.99 L485.44,453.71 L483.52,454.01 L481.99,452.31 L480.24,452.9 L478.45,453.03 L476.95,451.78 L475.28,451.61 L473.48,452.16 L471.92,451.51 L470.29,451.09 L468.79,449.96 L466.81,450.47 L465.26,449.39 L463.71,448.55 L462.13,448.12 L460.56,447.96 L458.94,447.45 L457.5,446.79 L456.23,445.95 L455.35,444.55 L453.84,444.08 L452.93,442.74 L451.56,442.05 L449.76,441.9 L449.18,440.32 L448.1,439.37 L446.61,438.37 L445.53,437.02 L444.4,435.71 L443.32,434.3 L442.53,433.07 L441.86,431.72 L441.11,430.34 L440.39,428.91 L439.66,427.43 L438.92,425.94 L438.19,424.42 L437.47,422.87 L436.77,421.26 L436.1,419.55 L435.56,418.03 L435.03,416.42 L434.51,414.75 L434.01,413.05 L433.51,411.34 L433.02,409.65 L432.54,407.98 L432.07,406.31 L431.61,404.64 L431.16,402.98 L430.73,401.33 L430.32,399.7 L429.94,398.11 L429.59,396.56 L429.25,395.01 L428.91,393.46 L428.57,391.87 L428.22,390.24 L427.91,388.8 L427.6,387.35 L427.29,385.87 L426.97,384.38 L426.65,382.87 L426.34,381.33 L426.02,379.76 L425.71,378.14 L425.4,376.44 L425.08,374.71 L424.77,372.97 L424.45,371.26 L424.13,369.6 L423.81,368.05 L423.44,366.32 L423.07,364.64 L422.7,363.01 L422.32,361.48 L421.89,360.01 L421.41,358.68 L420.32,356.46 L419.05,354.65 L417.39,353.4 L415.51,353.98 L414.44,355.92 L413.66,357.83 L412.9,360.03 L412.36,361.61Z" fill="#777" stroke="#777" stroke-width="0.4" stroke-linejoin="round"/>
<path d="M466,450.5 L466,454.5" stroke="#777" stroke-width="1.6" fill="none" stroke-linejoin="round" stroke-linecap="butt"/>
<path d="M474.5,451 L474.5,455" stroke="#777" stroke-width="1.6" fill="none" stroke-linejoin="round" stroke-linecap="butt"/>
<path d="M478,450.3 L478,454.3" stroke="#777" stroke-width="1.6" fill="none" stroke-linejoin="round" stroke-linecap="butt"/>
<path d="M481,451.2 L481,455.2" stroke="#777" stroke-width="1.6" fill="none" stroke-linejoin="round" stroke-linecap="butt"/>
<path d="M486,451.8 L486,455.8" stroke="#777" stroke-width="1.6" fill="none" stroke-linejoin="round" stroke-linecap="butt"/>
<path d="M488.5,452.5 L488.5,456.5" stroke="#777" stroke-width="1.6" fill="none" stroke-linejoin="round" stroke-linecap="butt"/>
<path d="M412.07,360.37 L413.18,361.51 L414.58,363.38 L415.11,364.36 L415.6,365.41 L416.14,366.82 L416.68,368.68 L416.96,369.82 L417.24,371.15 L417.53,372.64 L417.82,374.21 L418.1,375.83 L418.39,377.44 L418.67,379 L418.94,380.46 L419.24,382.02 L419.54,383.54 L419.82,385.03 L420.1,386.49 L420.38,387.93 L420.66,389.35 L420.94,390.77 L421.27,392.4 L421.59,393.99 L421.92,395.56 L422.25,397.12 L422.59,398.69 L422.93,400.3 L423.24,401.71 L423.55,403.14 L423.85,404.58 L424.16,406.04 L424.48,407.5 L424.81,408.95 L425.15,410.38 L425.52,411.81 L425.9,413.24 L426.29,414.66 L426.7,416.07 L427.17,417.42 L427.5,418.78 L427.84,420.08 L428.56,421.69 L428.77,423.38 L429.38,424.86 L429.87,426.39 L430.96,427.7 L430.94,429.28 L431.58,430.61 L432.99,431.56 L433.52,432.93 L434.23,434.15 L435.24,435.1 L435.47,437.12 L435.84,439 L436.49,440.81 L437.83,442.17 L439.18,443.46 L441.6,443.02 L442.13,444.96 L443.25,445.93 L445.29,445.72 L446.59,446.65 L447.82,447.72 L447.47,450.89 L450.29,449.76 L451.43,450.86 L451.94,453 L454.05,452.48 L455.56,453.84 L456.46,456.42 L459.28,454.92 L460.99,455.65 L462.41,457.09 L463.76,458.84 L465.62,459.18 L467.87,458.01 L468.93,461.11 L471.18,459.41 L473.02,459.18 L474.38,461.78 L476.12,462.14 L478,461.19 L479.65,461.93 L481.45,460.58 L483.03,461.67 L484.89,460.89 L486.48,462.3 L488.36,461.33 L490.04,461.07 L491.2,461.03 L491.35,455.33 L490.16,456.89 L488.54,455.81 L486.77,455.1 L485.22,454.75 L483.41,456.36 L481.89,455.45 L480.46,453.8 L478.7,455.03 L477.11,454.72 L475.69,453.38 L474.08,453.52 L472.43,453.67 L470.53,454.66 L469.2,453.3 L467.84,452.15 L465.82,452.95 L463.86,453.31 L463.35,449.96 L461.19,450.65 L459.78,449.53 L457.44,450.23 L456.05,448.94 L455.98,446.41 L454.46,446.28 L453.33,445.42 L451.9,444.95 L450.91,443.78 L448.6,444.14 L448.14,442.05 L446.63,441.24 L445.79,439.6 L443.75,439.94 L442.63,439.18 L442.28,437.72 L441.33,436.94 L440.08,436.15 L438.75,435.12 L438.25,433.38 L437.47,432.37 L436.09,431.58 L436.7,429.69 L435.64,428.63 L434.32,427.7 L434.23,426.22 L433.67,424.74 L433.02,423.36 L432.02,422.11 L431.55,420.59 L431.04,418.96 L430.53,417.76 L430.16,416.46 L429.76,415.12 L429.3,413.76 L428.86,412.38 L428.45,410.99 L428.05,409.62 L427.67,408.23 L427.3,406.83 L426.95,405.4 L426.61,403.97 L426.28,402.54 L425.97,401.11 L425.67,399.7 L425.31,398.1 L424.97,396.53 L424.64,394.98 L424.32,393.43 L423.99,391.85 L423.66,390.23 L423.38,388.81 L423.1,387.4 L422.82,385.96 L422.54,384.51 L422.25,383.02 L421.96,381.5 L421.66,379.94 L421.38,378.5 L421.1,376.95 L420.81,375.34 L420.52,373.71 L420.23,372.12 L419.93,370.6 L419.62,369.18 L419.32,367.92 L418.73,365.93 L418.14,364.39 L417.49,363.03 L416.82,361.82 L415.33,359.87 L414.13,358.63Z" fill="#111" stroke="#111" stroke-width="0.4" stroke-linejoin="round"/>
<text x="458.2" y="444.7" font-size="11" text-anchor="start" font-weight="normal">SERCA3<tspan font-size="7" dx="0.9" dy="-4.5">-/-</tspan></text>
<circle cx="394.6" cy="456.9" r="0.8" fill="#aaa"/>
<text x="472" y="479.6" font-size="11" text-anchor="start" font-weight="normal">WT</text>
</svg>
</body></html>
